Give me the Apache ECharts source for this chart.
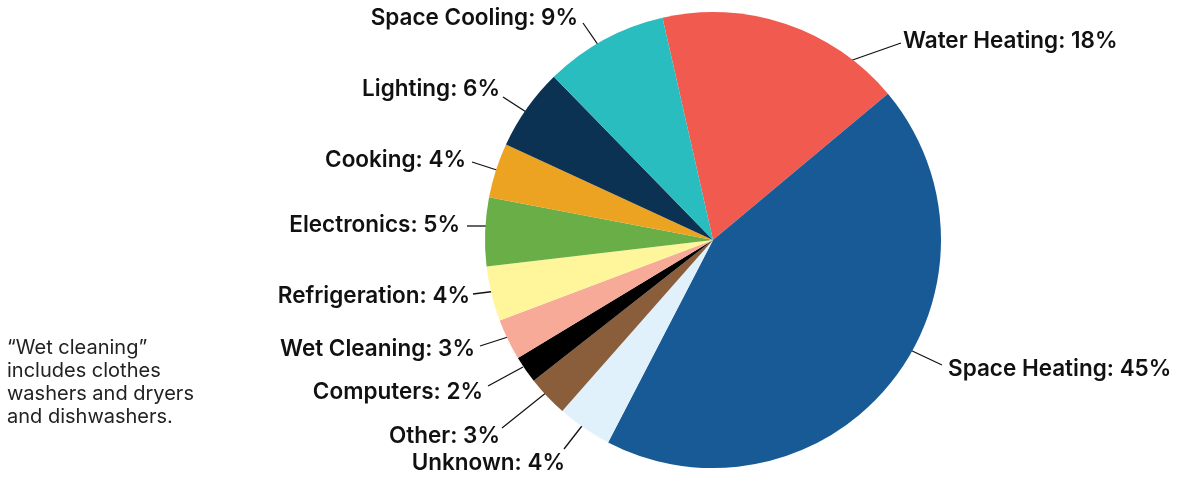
<!DOCTYPE html>
<html>
<head>
<meta charset="utf-8">
<title>Home energy use</title>
<script src="https://cdn.jsdelivr.net/npm/echarts@6/dist/echarts.min.js"></script>
<style>
  html, body { margin: 0; padding: 0; background: #fff; }
  #chart { width: 1178px; height: 479px; }
</style>
</head>
<body>
<div id="chart"></div>
<script>
// data, clockwise from the top
const categories = ['Water Heating', 'Space Heating', 'Unknown', 'Other', 'Computers', 'Wet Cleaning',
  'Refrigeration', 'Electronics', 'Cooking', 'Lighting', 'Space Cooling']
const shares = [18, 45, 4, 3, 2, 3, 4, 5, 4, 6, 9]
const colors = ['#f15b4f', '#175a96', '#e1f1fb', '#8a5d3b', '#000000', '#f7aa97',
  '#fff59b', '#69ae46', '#eca322', '#0b3153', '#29bdbf']

const footnote = '\u201cWet cleaning\u201d\nincludes clothes\nwashers and dryers\nand dishwashers.'

// where each callout sits (text anchor + leader line)
const callouts = {
  'Water Heating': { x: 903, y: 41, align: 'left', line: [[844, 63], [901, 43]] },
  'Space Heating': { x: 948, y: 369, align: 'left', line: [[908, 349], [942, 365]] },
  'Unknown': { x: 565, y: 463, align: 'right', line: [[585, 422], [564, 449]] },
  'Other': { x: 500, y: 436, align: 'right', line: [[547, 392], [502, 428]] },
  'Computers': { x: 483, y: 392, align: 'right', line: [[523, 367], [488, 386]] },
  'Wet Cleaning': { x: 475, y: 349, align: 'right', line: [[511, 336], [480, 346]] },
  'Refrigeration': { x: 470, y: 296, align: 'right', line: [[497, 291], [473, 294]] },
  'Electronics': { x: 460, y: 225, align: 'right', line: [[491, 226], [467, 226]] },
  'Cooking': { x: 466, y: 160, align: 'right', line: [[506, 173], [472, 162]] },
  'Lighting': { x: 500, y: 89, align: 'right', line: [[537, 119], [503, 97]] },
  'Space Cooling': { x: 578, y: 18, align: 'right', line: [[603, 52], [583, 23]] }
}

const chart = echarts.init(document.getElementById('chart'))

chart.setOption({
  animation: false,
  title: {
    text: footnote,
    left: 7,
    top: 336,
    padding: 0,
    textStyle: {
      fontFamily: 'Inter',
      fontSize: 20,
      fontWeight: 'normal',
      lineHeight: 23,
      color: '#222'
    }
  },
  series: [{
    type: 'pie',
    center: [713, 240],
    radius: 228,
    startAngle: 102.8,
    clockwise: true,
    color: colors,
    data: categories.map((name, i) => ({ name, value: shares[i] })),
    label: {
      show: true,
      position: 'outside',
      formatter: '{b}: {c}%',
      fontFamily: 'Inter',
      fontWeight: 600,
      fontSize: 22.5,
      color: '#111'
    },
    labelLine: {
      show: true,
      lineStyle: { color: '#111', width: 1.3 }
    },
    labelLayout: (p) => {
      const c = callouts[categories[p.dataIndex]]
      return {
        x: c.x,
        y: c.y,
        align: c.align,
        verticalAlign: 'middle',
        labelLinePoints: [c.line[0], c.line[1], c.line[1]]
      }
    },
    emphasis: { disabled: true }
  }]
})
</script>
</body>
</html>
